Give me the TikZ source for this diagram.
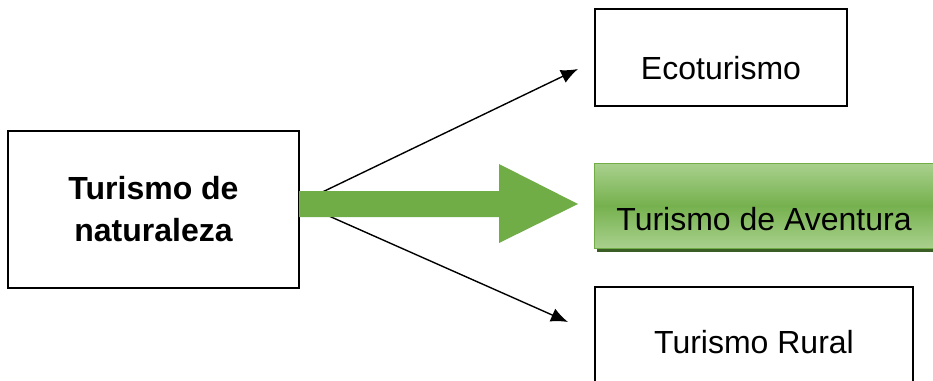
\documentclass[tikz,border=0pt]{standalone}
\usepackage{fontspec}
\setmainfont{Liberation Sans}
\usetikzlibrary{shadows,arrows.meta}
\definecolor{flecha}{HTML}{70AD47}
\definecolor{verdeclaro}{HTML}{A9D18E}
\definecolor{verdeosc}{HTML}{3B5E27}

\tikzset{
	caja/.style={draw=black,line width=1.2pt,inner sep=0pt,font=\fontsize{32}{40}\selectfont},
	flechita/.style={line width=1.4pt,-{Latex[length=17pt,width=14pt]}}
}

\begin{document}
\begin{tikzpicture}[x=1pt,y=-1pt]
	\useasboundingbox (0,0) rectangle (933,380);
	% cajas
	\node[caja,minimum width=291pt,minimum height=157pt,align=center,font=\bfseries\fontsize{32}{42}\selectfont] (nat) at (153.5,209.5) {Turismo de\\naturaleza};
	\node[caja,minimum width=252pt,minimum height=97pt,text height=44pt,text depth=0pt] (eco) at (721,57.5) {Ecoturismo};
	\node[caja,draw=flecha,line width=1pt,top color=verdeclaro,bottom color=verdeclaro,middle color=flecha!90!verdeclaro,
		drop shadow={shadow xshift=3pt,shadow yshift=-4pt,fill=verdeosc,opacity=1},
		text height=50pt,text depth=0pt,minimum width=340pt,minimum height=85pt] (ave) at (764,205.5) {Turismo de Aventura};
	\node[caja,minimum width=318pt,minimum height=110pt,text height=23pt,text depth=0pt] (rur) at (754,342) {Turismo Rural};
	% flechas
	\coordinate (ecoin) at (578,69);
	\coordinate (rurin) at (568,322);
	\draw[flechita] ([yshift=6.5pt]nat.east) -- (ecoin);
	\draw[flechita] ([yshift=6.5pt]nat.east) -- (rurin);
	\fill[flecha] (299,191) -- (499,191) -- (499,164) -- (578,204) -- (499,243) -- (499,217) -- (299,217) -- cycle;
\end{tikzpicture}
\end{document}
